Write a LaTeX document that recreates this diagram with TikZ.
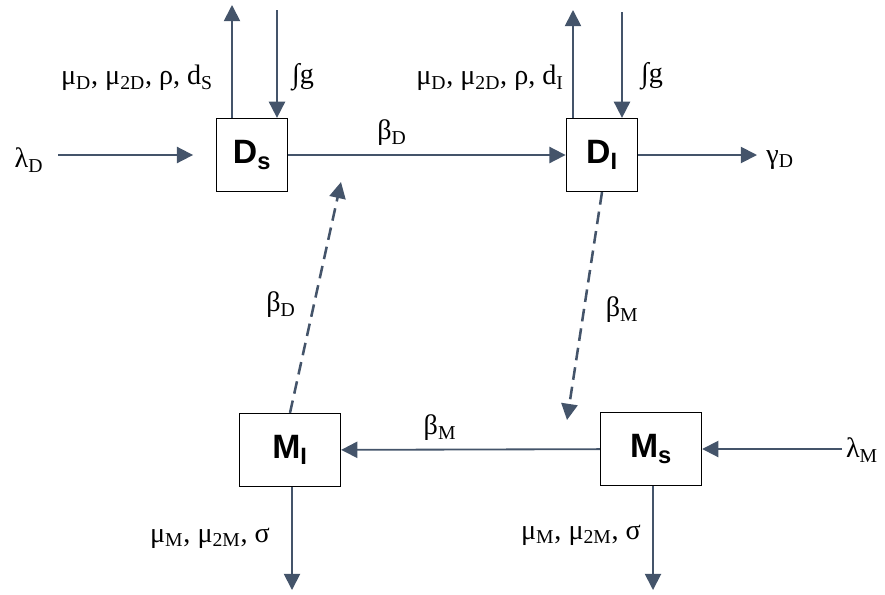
\documentclass[tikz,border=0pt]{standalone}
\usepackage{fontspec}
\setmainfont{Liberation Serif}
\newfontfamily\boxfont{Liberation Sans}
\usetikzlibrary{arrows.meta}
\definecolor{flowgrey}{RGB}{68,84,106}
\newcommand{\sbs}[1]{\textsubscript{#1}}

\begin{document}
\begin{tikzpicture}[x=0.025cm, y=-0.025cm,
  comp/.style={draw, line width=0.8pt, minimum width=51pt, minimum height=52pt, inner sep=0pt,
    font=\boxfont\bfseries\fontsize{24}{26}\selectfont},
  rate/.style={flowgrey, line width=1.3pt, -{Triangle[length=11.5pt, width=11.5pt]}},
  infect/.style={rate, line width=1.8pt, dash pattern=on 9pt off 5pt},
  lbl/.style={font=\fontsize{20}{22}\selectfont, inner sep=0pt}]
  \useasboundingbox (0,0) rectangle (885,594);

  % compartments: dogs (top) and mosquitoes (bottom)
  \node[comp] (ds) at (252,155) {D\sbs{s}};
  \node[comp] (di) at (602,155) {D\sbs{I}};
  \node[comp, minimum width=72pt] (mi) at (290,450) {M\sbs{I}};
  \node[comp, minimum width=72pt] (ms) at (651,449) {M\sbs{s}};

  % free ends of the flows
  \coordinate (lamDin) at (58,155);
  \coordinate (dsOut) at (232,5);
  \coordinate (dsIn) at (277,10);
  \coordinate (diOut) at (573,10);
  \coordinate (diIn) at (622,12);
  \coordinate (gamOut) at (757,155);
  \coordinate (bmTip) at (567,420);
  \coordinate (bdTip) at (341,182);
  \coordinate (lamMin) at (842,449);
  \coordinate (miOut) at (292,590);
  \coordinate (msOut) at (653,590);

  % flows
  \draw[rate, shorten >=16pt] (lamDin) -- (ds.west);
  \draw[rate] (ds.north -| dsOut) -- (dsOut);
  \draw[rate] (dsIn) -- (dsIn |- ds.north);
  \draw[rate] (ds) -- (di);
  \draw[rate] (di.north -| diOut) -- (diOut);
  \draw[rate] (diIn) -- (diIn |- di.north);
  \draw[rate] (di) -- (gamOut);
  \draw[infect] (di.south) -- (bmTip);
  \draw[infect] (mi.north) -- (bdTip);
  \draw[rate] (ms) -- (mi);
  \draw[rate] (lamMin) -- (ms);
  \draw[rate] (mi.south -| miOut) -- (miOut);
  \draw[rate] (ms.south -| msOut) -- (msOut);

  % rates
  \node[lbl] (lamD) at (29,160) {λ\sbs{D}};
  \node[lbl] (dsLoss) at (137,78) {μ\sbs{D}, μ\sbs{2D}, ρ, d\sbs{S}};
  \node[lbl] (dsGain) at (303,77) {∫g};
  \node[lbl] (betaDtop) at (392,133) {β\sbs{D}};
  \node[lbl] (diLoss) at (490,78) {μ\sbs{D}, μ\sbs{2D}, ρ, d\sbs{I}};
  \node[lbl] (diGain) at (652,76) {∫g};
  \node[lbl] (gamD) at (780,160) {γ\sbs{D}};
  \node[lbl] (betaDleft) at (281,305) {β\sbs{D}};
  \node[lbl] (betaMright) at (622,310) {β\sbs{M}};
  \node[lbl] (betaMbot) at (440,428) {β\sbs{M}};
  \node[lbl] (lamM) at (862,450) {λ\sbs{M}};
  \node[lbl] (miLoss) at (210,538) {μ\sbs{M}, μ\sbs{2M}, σ};
  \node[lbl] (msLoss) at (581,535) {μ\sbs{M}, μ\sbs{2M}, σ};
\end{tikzpicture}
\end{document}
